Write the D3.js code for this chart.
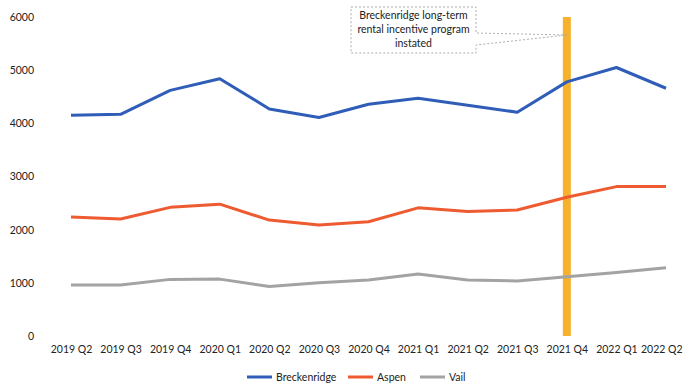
<!DOCTYPE html>
<html><head><meta charset="utf-8">
<script src="https://cdn.jsdelivr.net/npm/d3@7"></script>
<style>body{margin:0;background:#fff}svg{display:block}</style>
</head><body>
<svg id="c" width="683" height="384"></svg>
<script>
const categories = ["2019 Q2","2019 Q3","2019 Q4","2020 Q1","2020 Q2","2020 Q3","2020 Q4","2021 Q1","2021 Q2","2021 Q3","2021 Q4","2022 Q1","2022 Q2"];
const breckenridge = [4150,4170,4620,4840,4270,4110,4360,4470,4340,4210,4780,5050,4660];
const aspen = [2240,2200,2420,2480,2180,2090,2150,2410,2340,2370,2610,2810,2810];
const vail = [960,960,1065,1070,930,1000,1055,1165,1055,1035,1115,1195,1285];
const yTicks = [0,1000,2000,3000,4000,5000,6000];
const seriesNames = ["Breckenridge","Aspen","Vail"];
const markerCategory = "2021 Q4";
const annotationLines = ["Breckenridge long-term","rental incentive program","instated"];

const colors = ["#2F5DB8","#EE5B30","#A3A3A3"];
const font = "Lato, 'Open Sans', sans-serif";
const svg = d3.select("#c");
const x = d3.scalePoint().domain(categories).range([71,666]);
const y = d3.scaleLinear().domain([0,6000]).range([336,17]);

// y axis labels
const ya = svg.append("g").attr("transform","translate(34,0)")
  .call(d3.axisLeft(y).tickValues(yTicks).tickSize(0).tickPadding(0).tickFormat(d3.format("d")));
ya.select(".domain").remove();
ya.selectAll("text").attr("font-family",font).attr("font-size",10.5).attr("fill","#222");

// x axis labels
const xa = svg.append("g").attr("transform","translate(0,346)")
  .call(d3.axisBottom(x).tickSize(0).tickPadding(0));
xa.select(".domain").remove();
xa.selectAll("text").attr("font-family",font).attr("font-size",10.5).attr("fill","#222");
xa.selectAll(".tick").filter(d=>d===categories[categories.length-1]).select("text")
  .attr("text-anchor","end").attr("x",682-x(categories[categories.length-1]));

// vertical marker bar
svg.append("rect").attr("x",x(markerCategory)-4).attr("width",8)
  .attr("y",y(6000)).attr("height",y(0)-y(6000)).attr("fill","#F6B12E");

// lines
const data = [breckenridge, aspen, vail];
const line = d3.line().x((d,i)=>x(categories[i])).y(d=>y(d));
[2,1,0].forEach(k=>{
  svg.append("path").attr("d",line(data[k])).attr("fill","none")
    .attr("stroke",colors[k]).attr("stroke-width",3).attr("stroke-linejoin","round");
});

// callout
const bx0=351, bx1=476, by0=7, by1=53;
const tipX = x(markerCategory), tipY = 35;
svg.append("path")
  .attr("d",`M${bx0},${by0}H${bx1}V${by0+26}L${tipX},${tipY}L${bx1},${by0+38}V${by1}H${bx0}Z`)
  .attr("fill","#fff").attr("stroke","#9a9a9a").attr("stroke-width",0.8).attr("stroke-dasharray","2,2");
svg.append("g").selectAll("text").data(annotationLines).join("text")
  .attr("x",(bx0+bx1)/2).attr("y",(d,i)=>19+i*14).attr("text-anchor","middle")
  .attr("font-family",font).attr("font-size",10.5).attr("fill","#222").text(d=>d);

// legend
const legX = [247,348,420];
const lg = svg.append("g");
seriesNames.forEach((n,i)=>{
  lg.append("line").attr("x1",legX[i]).attr("x2",legX[i]+25).attr("y1",377).attr("y2",377)
    .attr("stroke",colors[i]).attr("stroke-width",3);
  lg.append("text").attr("x",legX[i]+29).attr("y",381).attr("font-family",font)
    .attr("font-size",10.5).attr("fill","#222").text(n);
});
</script>
</body></html>
